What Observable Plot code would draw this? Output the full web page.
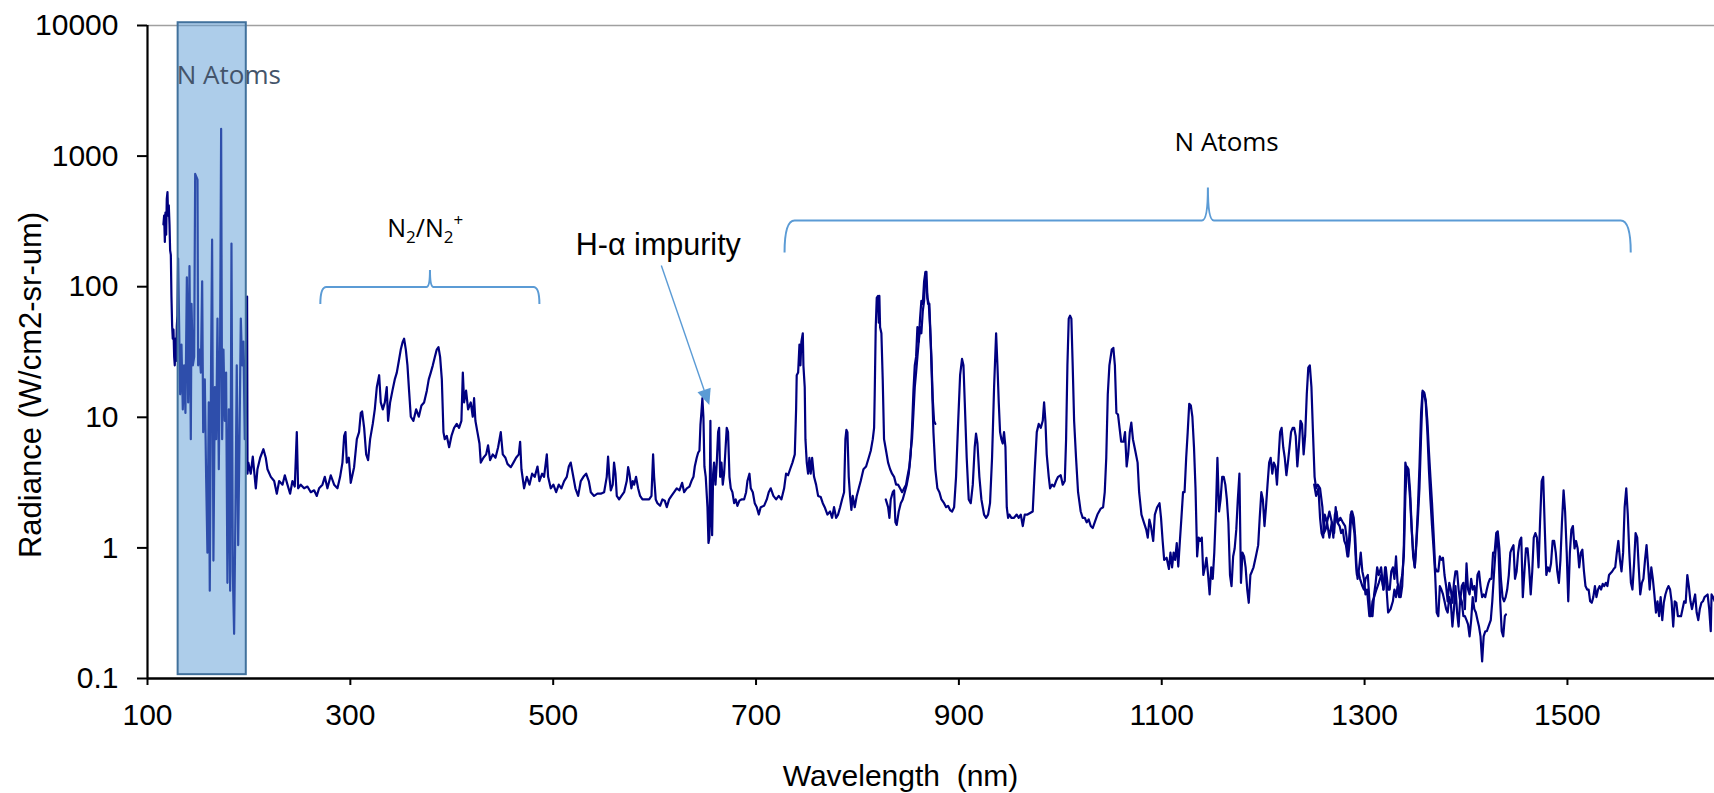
<!DOCTYPE html>
<html>
<head>
<meta charset="utf-8">
<script src="https://cdn.jsdelivr.net/npm/d3@7"></script>
<script src="https://cdn.jsdelivr.net/npm/@observablehq/plot@0.6"></script>
<style>
  html, body { margin: 0; padding: 0; background: #fff; }
  svg { display: block; }
</style>
</head>
<body>
<div id="chart"></div>
<script>
// ---------------- DATA (wavelength nm, radiance W/cm2-sr-um) ----------------
const segmentA = [
[115.7,300],[116.4,350],[117.1,220],[117.7,370],[118.4,250],[119.0,470],[119.7,530],[120.3,350],[121.0,420],[121.7,300],
[122.3,190],[123.0,175],[123.6,85],[124.3,50],[124.9,40],[125.6,47],[126.3,29],[126.9,25],[127.6,40],[128.2,27],
[128.9,50],[129.5,60],[130.2,164],[132.2,15],[133.5,36],[134.8,11.5],[136.1,25],[137.4,10.8],[138.8,118],[140.1,13],
[141.4,144],[142.7,6.8],[143.4,74],[144.7,25],[146.0,29],[147.0,730],[148.0,700],[149.3,660],[149.9,25],[151.2,33],
[152.6,22],[153.9,110],[154.9,7.7],[156.5,19.5],[157.8,3.5],[159.1,0.92],[160.4,13],[161.4,0.47],[162.7,27],[163.7,229],
[165.0,0.8],[166.4,17],[167.7,6.8],[169.0,57],[170.3,4.0],[171.6,40],[172.6,1620],[173.6,6.8],[174.9,33],[176.2,9.4],
[177.5,22],[178.8,0.54],[180.2,11.5],[181.5,0.47],[182.8,214],[184.1,0.66],[185.4,0.22],[186.7,1.8],[188.0,25],[189.4,1.05],
[190.7,6.8],[192.0,57],[193.3,25],[194.6,38],[195.9,6.8],[197.2,33],[198.2,84],[198.6,3.7],
[199.4,4.5],[201.8,3.7],[203.8,5.0],[206.8,2.86],[208.4,4.0],[211.1,4.9],[214.3,5.7],[216.6,4.9],[218.3,4.0],[221.6,3.5],
[224.9,3.25],[227.5,2.6],[229.8,3.25],[233.1,3.05],[235.4,3.6],[238.0,3.05],[240.6,2.6],[242.9,3.25],[245.2,2.95],[247.2,7.7],
[248.5,2.86],[251.1,3.05],[254.4,2.86],[257.7,2.95],[261.0,2.67],[264.3,2.76],[266.9,2.5],[269.2,2.86],[272.5,3.05],[274.8,3.5],
[277.4,2.86],[280.7,3.6],[284.0,3.05],[287.3,2.86],[289.9,3.5],[292.2,4.5],[293.9,7.2],[295.2,7.7],[296.5,4.5],[298.5,4.9],
[300.4,3.15],[303.7,4.15],[306.4,6.8],[308.6,7.7],[310.3,10.8],[311.6,11.1],[313.6,8.3],[315.6,5.2],[317.5,4.7],[319.5,6.8],
[322.1,8.9],[324.1,11.5],[326.1,17],[328.4,21],[330.0,13],[332.0,11.5],[334.0,13],[335.9,17],[337.2,9.4],[339.2,13],
[341.5,16],[343.8,19.5],[345.8,22],[347.8,27],[349.7,33],[351.7,38],[353.0,40],[354.7,33],[356.3,25],[357.9,16],
[359.6,10.1],[362.2,9.4],[364.9,11.5],[367.5,10.1],[370.1,12.3],[372.7,13],[375.4,16],[377.3,19.5],[379.3,22],[381.3,25],
[383.3,29],[385.2,33],[386.9,34.5],[388.5,29],[390.2,19.5],[391.8,7.7],[393.1,6.8],[395.1,7.2],[397.4,5.9],[399.7,7.2],
[402.3,8.3],[404.9,8.9],[407.2,8.3],[409.5,9.4],[410.9,22],[412.2,13],[414.1,16],[416.1,11.5],[418.7,13],[420.7,10.1],
[422.0,14],[423.3,9.4],[425.3,7.7],[427.3,6.3],[428.6,4.5],[431.2,4.9],[433.9,5.2],[435.8,6.1],[437.8,4.7],[440.4,5.2],
[443.1,4.9],[445.7,5.9],[448.3,7.7],[450.3,5.2],[452.9,4.9],[454.9,4.4],[458.2,4.15],[460.8,4.5],[463.4,4.9],[466.1,5.2],
[467.4,6.5],[468.7,4.0],[471.3,2.86],[474.0,3.5],[476.6,3.05],[479.2,3.7],[481.8,3.5],[484.5,4.2],[486.4,3.25],[489.1,3.7],
[491.0,3.5],[493.7,5.2],[495.0,3.5],[497.6,2.86],[500.2,3.05],[502.9,2.67],[505.5,3.05],[508.1,2.86],[510.8,3.25],[513.4,3.5],
[515.4,4.2],[517.3,4.5],[519.3,3.7],[521.9,2.86],[524.6,2.5],[527.2,3.25],[529.8,3.5],[532.5,3.7],[535.1,3.25],[537.1,2.67],
[540.3,2.5],[543.6,2.6],[546.9,2.6],[550.2,2.67],[552.8,3.5],[554.1,5.0],[555.4,3.5],[556.8,2.76],[558.7,3.05],[560.0,4.5],
[561.4,3.7],[562.7,2.5],[565.0,2.35],[567.3,2.5],[569.9,2.67],[572.5,3.25],[573.9,4.15],[575.2,3.7],[577.1,2.86],[578.5,3.25],
[579.8,3.05],[581.7,3.5],[583.7,2.86],[585.7,2.5],[588.0,2.35],[591.3,2.35],[594.6,2.35],[596.9,2.5],[598.5,5.2],[599.5,3.5],
[601.1,2.35],[602.8,2.2],[605.4,2.1],[607.7,2.35],[610.0,2.3],[612.0,2.05],[614.3,2.35],[616.6,2.5],[619.2,2.67],[621.8,2.86],
[624.5,2.76],[627.1,3.15],[629.1,2.67],[631.7,2.86],[634.3,2.95],[636.3,3.25],[638.3,3.5],[639.6,4.2],[641.5,4.9],[642.9,5.35],
[644.2,5.55],[645.2,8.8],[646.2,11.1],[647.1,14],[648.1,10.1],[649.1,4.2],[650.4,3.5],[652.1,2.05],[653.1,1.09],[654.0,1.2],
[655.0,9.4],[655.7,1.8],[656.7,1.25],[657.7,3.7],[658.6,4.5],[660.0,3.05],[661.3,4.5],[662.6,7.7],[663.6,8.3],[664.6,3.5],
[665.9,4.5],[667.2,3.05],[668.5,3.7],[669.8,5.55],[671.1,8.3],[672.4,7.7],[673.8,3.5],[675.1,2.86],[676.7,2.67],[678.4,2.2],
[680.0,2.35],[681.6,2.1],[683.6,2.3],[685.6,2.35],[688.2,2.35],[690.2,2.67],[691.5,3.25],[693.5,3.7],[694.8,2.86],[696.8,2.67],
[698.7,2.2],[700.7,2.05],[702.7,1.8],[704.6,2.05],[707.9,2.1],[710.6,2.35],[712.5,2.67],[714.5,2.86],[717.1,2.5],[719.8,2.35],
[722.4,2.5],[725.0,2.35],[727.7,2.86],[729.6,3.7],[731.6,3.6],[733.6,4.0],[735.9,4.5],[738.2,5.2],[739.5,11.5],[740.1,21],
[741.5,22],[742.8,36],[743.8,25],[744.7,38],[746.1,44],[746.7,25],[748.0,17],[748.7,6.8],[750.0,4.5],[751.3,3.7],
[752.6,4.9],[753.9,3.7],[755.3,4.9],[757.2,3.5],[759.2,3.05],[761.2,2.5],[763.8,2.45],[765.8,2.2],[767.7,2.05],[770.4,1.8],
[773.0,1.9],[775.0,1.7],[776.9,2.05],[778.9,1.7],[780.9,1.8],[782.9,2.05],[784.8,2.35],[786.8,2.67],[788.1,6.8],[789.1,8.0],
[790.1,7.7],[791.4,3.5],[792.7,2.5],[794.0,1.95],[795.3,2.5],[797.3,2.05],[799.3,2.5],[801.3,2.86],[803.2,3.25],[805.9,4.0],
[808.5,4.2],[811.1,4.9],[813.1,5.55],[815.1,6.8],[816.4,8.3],[817.0,15],[818.0,49],[819.0,82],[820.3,85],[821.0,53],
[821.6,85],[822.3,49],[823.6,44],[824.9,19.5],[826.2,6.8],[828.2,5.55],[830.2,4.5],[832.2,4.0],[834.1,3.7],[836.1,3.5],
[838.1,3.05],[840.0,3.05],[842.0,2.86],[844.0,2.67],[846.0,2.86],[847.9,3.05],[849.2,3.5],[851.2,4.2],[852.5,5.55],[853.8,6.8],
[855.2,10.8],[856.5,17],[857.8,22],[859.1,29],[860.4,38],[861.7,49],[863.0,44],[864.4,65],[865.7,78],[867.0,126],
[868.0,130],[869.0,82],[870.3,74],[871.6,49],[872.9,29],[874.2,14],[875.5,9.4],[876.8,8.9]
];

const segmentB = [
[827.9,2.35],[830.2,2.05],[831.5,1.7],[832.8,2.35],[834.8,2.67],[836.1,2.76],[837.4,1.57],[838.7,1.5],[840.7,1.9],[842.7,2.2],
[844.6,2.35],[846.6,2.67],[848.6,3.05],[850.6,3.7],[852.5,5.2],[853.8,8.3],[855.2,16],[856.5,25],[857.8,29],[859.1,49],
[860.4,38],[861.7,57],[863.0,78],[864.4,74],[865.7,110],[867.0,130],[868.3,93],[869.6,74],[870.9,74],[872.2,38],
[873.6,17],[874.9,7.7],[876.8,4.0],[878.8,2.86],[880.8,2.67],[882.8,2.35],[885.4,2.2],[887.4,2.05],[889.3,2.1],[891.3,1.95],
[893.3,1.9],[895.3,2.05],[897.2,3.5],[899.2,8.9],[901.2,21],[903.1,28],[904.5,25],[905.8,13],[907.7,4.9],[909.7,2.35],
[911.7,2.2],[913.7,3.05],[915.6,5.9],[916.9,7.5],[918.3,6.3],[920.2,3.5],[922.2,2.35],[924.8,1.8],[926.8,1.7],[928.8,1.8],
[930.7,2.2],[932.7,4.9],[934.7,17],[936.7,44],[938.0,25],[939.3,13],[940.6,7.7],[941.9,6.8],[943.2,6.3],[944.5,7.7],
[945.9,5.9],[947.2,2.05],[948.5,1.7],[949.8,1.8],[951.8,1.7],[954.4,1.7],[957.0,1.8],[959.0,1.7],[961.0,1.8],[963.0,1.47],
[964.9,1.8],[967.6,1.8],[970.2,1.85],[972.8,1.9],[974.8,4.0],[976.8,7.7],[978.7,8.9],[980.7,8.3],[982.7,9.4],[984.0,13],
[985.3,9.4],[986.6,5.2],[988.6,3.5],[989.9,2.86],[991.9,3.05],[993.8,2.95],[995.8,3.25],[997.8,3.5],[1000.4,3.6],[1002.4,3.05],
[1004.4,3.25],[1005.7,6.8],[1007.0,25],[1008.3,57],[1009.6,60],[1010.9,57],[1012.2,25],[1013.6,9.4],[1015.5,4.9],[1017.5,2.67],
[1020.1,1.9],[1022.1,1.7],[1024.1,1.7],[1026.0,1.57],[1028.0,1.65],[1030.0,1.47],[1032.0,1.42],[1033.9,1.57],[1036.6,1.8],[1039.9,2.0],
[1042.2,2.05],[1043.8,2.67],[1045.3,4.9],[1046.8,15],[1048.4,25],[1050.7,33],[1052.3,34],[1053.8,25],[1055.3,10.8],[1056.9,10.5],
[1058.4,8.3],[1060.0,6.5],[1062.3,6.5],[1063.8,7.7],[1065.4,4.2],[1066.9,5.2],[1068.5,7.7],[1070.0,9.1],[1071.6,6.8],[1073.9,5.55],
[1076.2,4.5],[1077.7,2.67],[1080.0,1.8],[1082.4,1.57],[1084.7,1.38],[1086.2,1.2],[1087.8,1.65],[1089.3,1.47],[1091.6,1.13],[1093.2,1.8],
[1095.5,2.05],[1097.8,2.2],[1099.3,1.7],[1100.9,1.13],[1102.4,0.81],[1104.8,0.84],[1107.1,0.69],[1108.6,0.92],[1110.2,0.71],[1111.7,0.92],
[1113.2,0.81],[1114.8,1.09],[1116.3,0.72],[1117.9,1.13],[1119.4,1.7],[1121.0,2.67],[1122.5,2.67],[1124.1,4.9],[1125.6,7.7],[1127.1,12.7],
[1128.7,12.3],[1130.2,10.1],[1131.8,5.9],[1133.3,2.86],[1134.9,0.86],[1136.4,1.2],[1138.0,1.13],[1139.5,1.2],[1141.0,0.62],[1142.6,0.71],
[1144.1,0.84],[1145.7,0.62],[1147.2,0.44],[1148.8,0.71],[1150.3,0.58],[1151.8,0.92],[1153.4,1.9],[1154.9,4.9],[1156.5,1.9],[1158.0,2.35],
[1159.6,3.5],[1161.1,3.5],[1162.7,3.05],[1164.2,2.35],[1165.7,1.57],[1167.3,0.62],[1168.8,0.51],[1170.4,0.86],[1171.9,0.99],[1173.5,1.38],
[1175.0,2.35],[1176.6,3.7],[1178.1,0.54],[1179.6,0.92],[1181.2,0.86],[1182.7,0.71],[1184.3,0.48],[1185.8,0.38],[1187.4,0.62],[1188.9,0.66],
[1190.5,0.71],[1192.8,0.86],[1195.1,1.05],[1196.6,1.7],[1198.2,2.67],[1199.7,2.35],[1201.3,1.47],[1202.8,2.05],[1204.3,3.05],[1205.9,4.5],
[1207.4,4.9],[1209.0,3.7],[1210.5,4.5],[1212.1,4.2],[1213.6,3.05],[1215.2,4.9],[1216.7,7.7],[1218.2,8.3],[1219.8,5.9],[1221.3,4.9],
[1222.9,3.6],[1224.4,4.5],[1226.0,5.9],[1227.5,7.7],[1229.1,8.3],[1230.6,8.3],[1232.1,7.2],[1233.7,4.2],[1235.2,5.9],[1236.8,9.4],
[1238.3,8.9],[1239.9,5.2],[1241.4,7.2],[1243.0,15],[1244.5,24],[1246.0,25],[1247.6,17],[1249.1,7.7],[1250.7,3.5],[1252.2,2.86],
[1253.8,3.05],[1256.1,2.86],[1258.4,2.05],[1259.9,1.3],[1261.5,1.38],[1263.0,1.57],[1265.3,1.2],[1267.7,1.57],[1269.2,1.2],[1270.7,1.8],
[1272.3,1.9],[1273.8,1.57],[1276.1,1.7],[1278.5,1.57],[1280.8,1.47],[1282.3,1.2],[1283.9,0.86],[1285.4,1.13],[1287.0,1.9],[1288.5,1.57],
[1290.0,1.3],[1291.6,0.74],[1293.1,0.58],[1294.7,0.71],[1296.2,0.92],[1297.8,0.66],[1299.3,0.58],[1300.9,0.44],[1302.4,0.48],[1304.7,0.3],
[1306.3,0.3],[1307.8,0.39],[1309.4,0.42],[1311.7,0.48],[1314.0,0.54],[1316.3,0.62],[1318.6,0.48],[1320.2,0.71],[1321.7,0.48],[1323.2,0.32],
[1325.6,0.34],[1327.9,0.39],[1329.4,0.48],[1331.0,0.42],[1332.5,0.51],[1334.1,0.42],[1335.6,0.54],[1337.1,0.62],[1338.7,0.86],[1340.2,2.5],
[1341.8,4.2],[1343.3,4.0],[1344.9,2.67],[1346.4,1.47],[1347.9,0.86],[1349.5,0.71],[1351.0,1.05],[1352.6,1.7],[1354.1,2.86],[1355.7,7.2],
[1357.2,15.5],[1358.8,15],[1360.3,13],[1361.9,7.7],[1363.4,4.0],[1364.9,2.35],[1366.5,1.47],[1368.0,0.99],[1369.6,0.62],[1371.1,0.32],
[1372.7,0.3],[1374.2,0.51],[1375.7,0.48],[1377.3,0.44],[1378.8,0.39],[1380.4,0.34],[1381.9,0.32],[1383.5,0.42],[1385.0,0.38],[1386.6,0.25],
[1388.1,0.34],[1389.6,0.51],[1391.2,0.32],[1392.7,0.25],[1394.3,0.42],[1395.8,0.39],[1397.4,0.3],[1398.9,0.3],[1400.5,0.28],[1402.0,0.26],
[1403.5,0.21],[1405.1,0.28],[1406.6,0.42],[1408.2,0.34],[1409.7,0.32],[1411.3,0.28],[1412.8,0.25],[1414.3,0.21],[1415.9,0.135],[1417.4,0.21],
[1419.0,0.23],[1420.5,0.23],[1422.1,0.25],[1424.4,0.28],[1425.9,0.39],[1427.5,0.62],[1429.0,0.92],[1430.6,1.3],[1432.1,0.92],[1433.7,0.39],
[1435.2,0.23],[1436.7,0.21],[1438.3,0.3],[1439.4,0.31]
];

const segmentC = [
[1250.3,3.05],[1252.2,2.5],[1254.5,2.86],[1256.1,1.7],[1257.6,1.3],[1259.2,1.2],[1260.7,1.8],[1263.0,1.57],[1265.3,1.9],[1267.7,1.57],
[1270.0,1.3],[1271.5,2.05],[1273.1,1.57],[1275.4,1.47],[1276.9,1.3],[1278.5,1.38],[1280.0,1.13],[1281.6,1.05],[1283.1,0.86],[1284.6,1.13],
[1286.2,1.8],[1287.7,1.9],[1289.3,1.7],[1290.8,1.2],[1292.4,0.62],[1293.9,0.66],[1295.5,0.58],[1297.8,0.51],[1299.3,0.48],[1300.9,0.58],
[1303.2,0.62],[1305.5,0.32],[1307.8,0.3],[1309.4,0.44],[1310.9,0.54],[1312.4,0.71],[1314.0,0.62],[1316.3,0.71],[1318.6,0.48],[1320.9,0.71],
[1323.2,0.48],[1324.8,0.48],[1326.3,0.66],[1327.9,0.71],[1329.4,0.58],[1331.0,0.86],[1332.5,0.54],[1334.1,0.48],[1335.6,0.42],[1337.1,0.51],
[1338.7,1.05],[1340.2,4.5],[1341.8,3.9],[1343.3,3.5],[1344.9,2.35],[1346.4,1.38],[1347.9,0.92],[1349.5,0.71],[1351.0,1.13],[1352.6,2.05],
[1354.1,4.2],[1355.7,10.8],[1357.2,16],[1358.8,15.5],[1360.3,13.5],[1361.9,9.4],[1363.4,5.55],[1364.9,3.5],[1366.5,2.2],[1368.0,1.3],
[1369.6,0.71],[1371.1,0.66],[1372.7,0.66],[1374.2,0.86],[1375.7,0.81],[1377.3,0.84],[1378.8,0.62],[1380.4,0.51],[1381.9,0.39],[1383.5,0.54],
[1385.0,0.48],[1386.6,0.38],[1388.1,0.54],[1389.6,0.66],[1391.2,0.66],[1392.7,0.48],[1394.3,0.39],[1395.8,0.51],[1397.4,0.54],[1398.9,0.34],
[1400.5,0.76],[1402.0,0.48],[1403.5,0.44],[1405.1,0.58],[1406.6,0.48],[1408.2,0.51],[1409.7,0.39],[1411.3,0.62],[1412.8,0.66],[1414.3,0.51],
[1415.9,0.42],[1417.4,0.44],[1419.0,0.42],[1420.5,0.48],[1422.1,0.54],[1423.6,0.58],[1425.2,0.58],[1426.7,0.92],[1428.2,0.92],[1429.8,1.3],
[1431.3,1.34],[1432.9,0.99],[1434.4,0.58],[1436.0,0.42],[1437.5,0.39],[1439.1,0.42],[1440.6,0.48],[1442.2,0.62],[1443.7,0.92],[1445.2,0.99],
[1446.8,1.05],[1448.3,0.58],[1449.9,0.66],[1451.4,0.92],[1453.0,1.13],[1454.5,1.2],[1456.0,0.42],[1457.6,0.66],[1459.1,0.99],[1460.7,0.99],
[1462.2,0.71],[1463.8,0.44],[1465.3,0.66],[1466.8,1.2],[1468.4,1.3],[1469.9,1.2],[1471.5,0.71],[1473.0,1.57],[1474.6,3.25],[1476.1,3.5],
[1477.7,1.38],[1479.2,0.62],[1480.7,0.71],[1482.3,0.66],[1483.8,0.76],[1485.4,1.13],[1486.9,1.13],[1488.5,0.92],[1490.0,0.66],[1491.6,0.54],
[1493.1,0.81],[1494.6,1.57],[1496.2,2.76],[1497.7,1.9],[1499.3,0.92],[1500.8,0.39],[1502.4,0.92],[1503.9,1.38],[1505.4,1.47],[1507.0,0.99],
[1508.5,1.13],[1510.1,0.99],[1511.6,0.71],[1513.2,0.92],[1514.7,0.97],[1516.3,0.66],[1517.8,0.51],[1519.4,0.48],[1520.9,0.48],[1522.4,0.39],
[1524.0,0.38],[1525.5,0.42],[1527.1,0.51],[1528.6,0.42],[1530.2,0.48],[1531.7,0.51],[1533.2,0.48],[1534.8,0.53],[1536.3,0.51],[1537.9,0.54],
[1539.4,0.51],[1541.0,0.62],[1542.5,0.64],[1544.1,0.66],[1545.6,0.69],[1547.1,0.71],[1548.7,0.92],[1550.2,1.13],[1551.8,0.81],[1553.3,0.66],
[1554.9,0.92],[1556.4,2.05],[1558.0,2.86],[1559.5,1.8],[1561.0,0.92],[1562.6,0.54],[1564.1,0.48],[1565.7,0.76],[1567.2,1.3],[1568.8,1.2],
[1570.3,0.71],[1571.8,0.44],[1573.4,0.54],[1574.9,0.58],[1576.5,0.81],[1578.0,1.05],[1579.6,0.71],[1581.1,0.48],[1582.7,0.71],[1584.2,0.58],
[1585.7,0.44],[1587.3,0.32],[1588.8,0.39],[1590.4,0.3],[1591.9,0.42],[1593.5,0.28],[1595.0,0.38],[1596.6,0.44],[1598.1,0.48],[1599.6,0.51],
[1601.2,0.48],[1602.7,0.39],[1604.3,0.25],[1605.8,0.39],[1607.4,0.38],[1608.9,0.3],[1610.5,0.3],[1612.0,0.3],[1613.5,0.34],[1615.1,0.39],
[1616.6,0.38],[1618.2,0.62],[1619.7,0.51],[1621.3,0.39],[1622.8,0.34],[1624.4,0.39],[1625.9,0.44],[1627.4,0.32],[1629.0,0.28],[1630.5,0.34],
[1632.1,0.38],[1633.6,0.39],[1635.2,0.42],[1636.7,0.43],[1638.2,0.44],[1639.8,0.34],[1641.3,0.23],[1642.1,0.44],[1643.6,0.42],[1645.2,0.39]
];

// Axis ticks
const xTicks = [100, 300, 500, 700, 900, 1100, 1300, 1500];
const yTicks = [0.1, 1, 10, 100, 1000, 10000];

// Highlighted band (vacuum-UV N atoms)
const bandRange = [{x1: 130.2, x2: 197.4, y1: 0.107, y2: 10500}];

// Text labels
const textLabels = [
  {wl: 180.2, rad: 4130, label: "N Atoms", kind: "band"},
  {wl: 1164, rad: 1270, label: "N Atoms", kind: "brace"}
];
const impurityLabel = [{wl: 522.3, rad: 207, label: "H-\u03b1 impurity"}];
const xTitle = "Wavelength  (nm)";
const yTitle = "Radiance (W/cm2-sr-um)";

// Braces (wavelength from/to/tip, radiance level)
const braces = [
  {from: 270.9, to: 486.9, tip: 379.0, rad: 98.6, arm: 17, tipH: 17, r: 6},
  {from: 728.6, to: 1562.9, tip: 1146.0, rad: 319, arm: 32, tipH: 33, r: 10}
];
const n2Label = {wl: 374.4, rad: 237};
const impurityArrow = {fromWl: 607.1, fromRad: 144, toWl: 654.4, toRad: 12.3};

// ---------------- BUILD ----------------
const rows = [
  ...segmentA.map(([wl, rad]) => ({seg: "A", wl, rad})),
  ...segmentB.map(([wl, rad]) => ({seg: "B", wl, rad})),
  ...segmentC.map(([wl, rad]) => ({seg: "C", wl, rad}))
];

const accent = "#5B9BD5";

function braceMark(b) {
  return (index, scales) => {
    const X1 = scales.x(b.from), X2 = scales.x(b.to), XM = scales.x(b.tip), Y = scales.y(b.rad);
    const r = b.r, tr = Math.max(3, r * 0.6);
    const d = `M${X1},${Y + b.arm} Q${X1},${Y} ${X1 + r},${Y} L${XM - tr},${Y} Q${XM},${Y} ${XM},${Y - b.tipH} Q${XM},${Y} ${XM + tr},${Y} L${X2 - r},${Y} Q${X2},${Y} ${X2},${Y + b.arm}`;
    return d3.create("svg:path").attr("d", d).attr("fill", "none")
      .attr("stroke", accent).attr("stroke-width", 2).node();
  };
}

function arrowMark(a) {
  return (index, scales) => {
    const x1 = scales.x(a.fromWl), y1 = scales.y(a.fromRad);
    const x2 = scales.x(a.toWl), y2 = scales.y(a.toRad);
    const ang = Math.atan2(y2 - y1, x2 - x1);
    const L = 16, W = 7;
    const bx = x2 - L * Math.cos(ang), by = y2 - L * Math.sin(ang);
    const g = d3.create("svg:g");
    g.append("line").attr("x1", x1).attr("y1", y1).attr("x2", bx).attr("y2", by)
      .attr("stroke", accent).attr("stroke-width", 1.4);
    g.append("polygon")
      .attr("points", `${x2},${y2} ${bx + W * Math.sin(ang)},${by - W * Math.cos(ang)} ${bx - W * Math.sin(ang)},${by + W * Math.cos(ang)}`)
      .attr("fill", accent);
    return g.node();
  };
}

function n2Mark(p) {
  return (index, scales) => {
    const t = d3.create("svg:text")
      .attr("x", scales.x(p.wl)).attr("y", scales.y(p.rad))
      .attr("text-anchor", "middle")
      .attr("font-family", "'Open Sans', sans-serif")
      .attr("font-size", 25).attr("fill", "#000");
    t.append("tspan").text("N");
    t.append("tspan").attr("font-size", 17).attr("dy", 6).text("2");
    t.append("tspan").attr("dy", -6).text("/N");
    t.append("tspan").attr("font-size", 17).attr("dy", 6).text("2");
    t.append("tspan").attr("font-size", 17).attr("dy", -17).text("+");
    return t.node();
  };
}

// Y-axis title: centred text, rotated, placed left of the frame
function yTitleMark(label) {
  return (index, scales, values, dims) => {
    const cx = dims.marginLeft - 116;
    const cy = (dims.marginTop + dims.height - dims.marginBottom) / 2 + 33.5;
    return d3.create("svg:text")
      .attr("transform", `translate(${cx},${cy}) rotate(-90)`)
      .attr("text-anchor", "middle").attr("dy", "0.32em")
      .attr("font-family", "'Liberation Sans', Arial, sans-serif")
      .attr("font-size", 31).attr("fill", "#000")
      .text(label).node();
  };
}

const chart = Plot.plot({
  width: 1714,
  height: 793,
  marginLeft: 147,
  marginRight: 0,
  marginTop: 25,
  marginBottom: 115,
  style: {fontFamily: "'Liberation Sans', Arial, sans-serif", fontSize: "30px", color: "#000", background: "#fff", overflow: "visible"},
  x: {type: "linear", domain: [100, 1645]},
  y: {type: "log", domain: [0.1, 10000]},
  marks: [
    Plot.ruleY([10000], {stroke: "#a0a0a0", strokeWidth: 1.5}),
    Plot.line(rows, {x: "wl", y: "rad", z: "seg", stroke: "#000080", strokeWidth: 2.2, curve: "linear"}),
    Plot.rect(bandRange, {x1: "x1", x2: "x2", y1: "y1", y2: "y2", fill: accent, fillOpacity: 0.5, stroke: "#41719C", strokeWidth: 2}),
    Plot.ruleX([100], {stroke: "#000", strokeWidth: 2.2}),
    Plot.ruleY([0.1], {stroke: "#000", strokeWidth: 2.6}),
    Plot.axisX({ticks: xTicks, tickSize: 7, tickPadding: 18, label: null, fontSize: 30, strokeWidth: 2, tickFormat: d => String(d)}),
    Plot.axisY({ticks: yTicks, tickSize: 10, tickPadding: 19, label: null, fontSize: 30, strokeWidth: 2, tickFormat: d => String(d)}),
    Plot.text(textLabels.filter(d => d.kind === "band"), {x: "wl", y: "rad", text: "label", fontFamily: "'Open Sans', sans-serif", fontSize: 26, fill: "#44546A", lineAnchor: "middle"}),
    Plot.text(textLabels.filter(d => d.kind === "brace"), {x: "wl", y: "rad", text: "label", fontFamily: "'Open Sans', sans-serif", fontSize: 26, fill: "#000", lineAnchor: "middle"}),
    Plot.text(impurityLabel, {x: "wl", y: "rad", text: "label", textAnchor: "start", fontFamily: "'Liberation Sans', Arial, sans-serif", fontSize: 30.5, fill: "#000", lineAnchor: "middle"}),
    ...braces.map(braceMark),
    arrowMark(impurityArrow),
    n2Mark(n2Label),
    Plot.text([xTitle], {frameAnchor: "bottom", dx: -30.5, dy: 98, fontSize: 30, textAnchor: "middle", lineAnchor: "middle", fill: "#000"}),
    yTitleMark(yTitle)
  ]
});

document.getElementById("chart").appendChild(chart);
</script>
</body>
</html>
